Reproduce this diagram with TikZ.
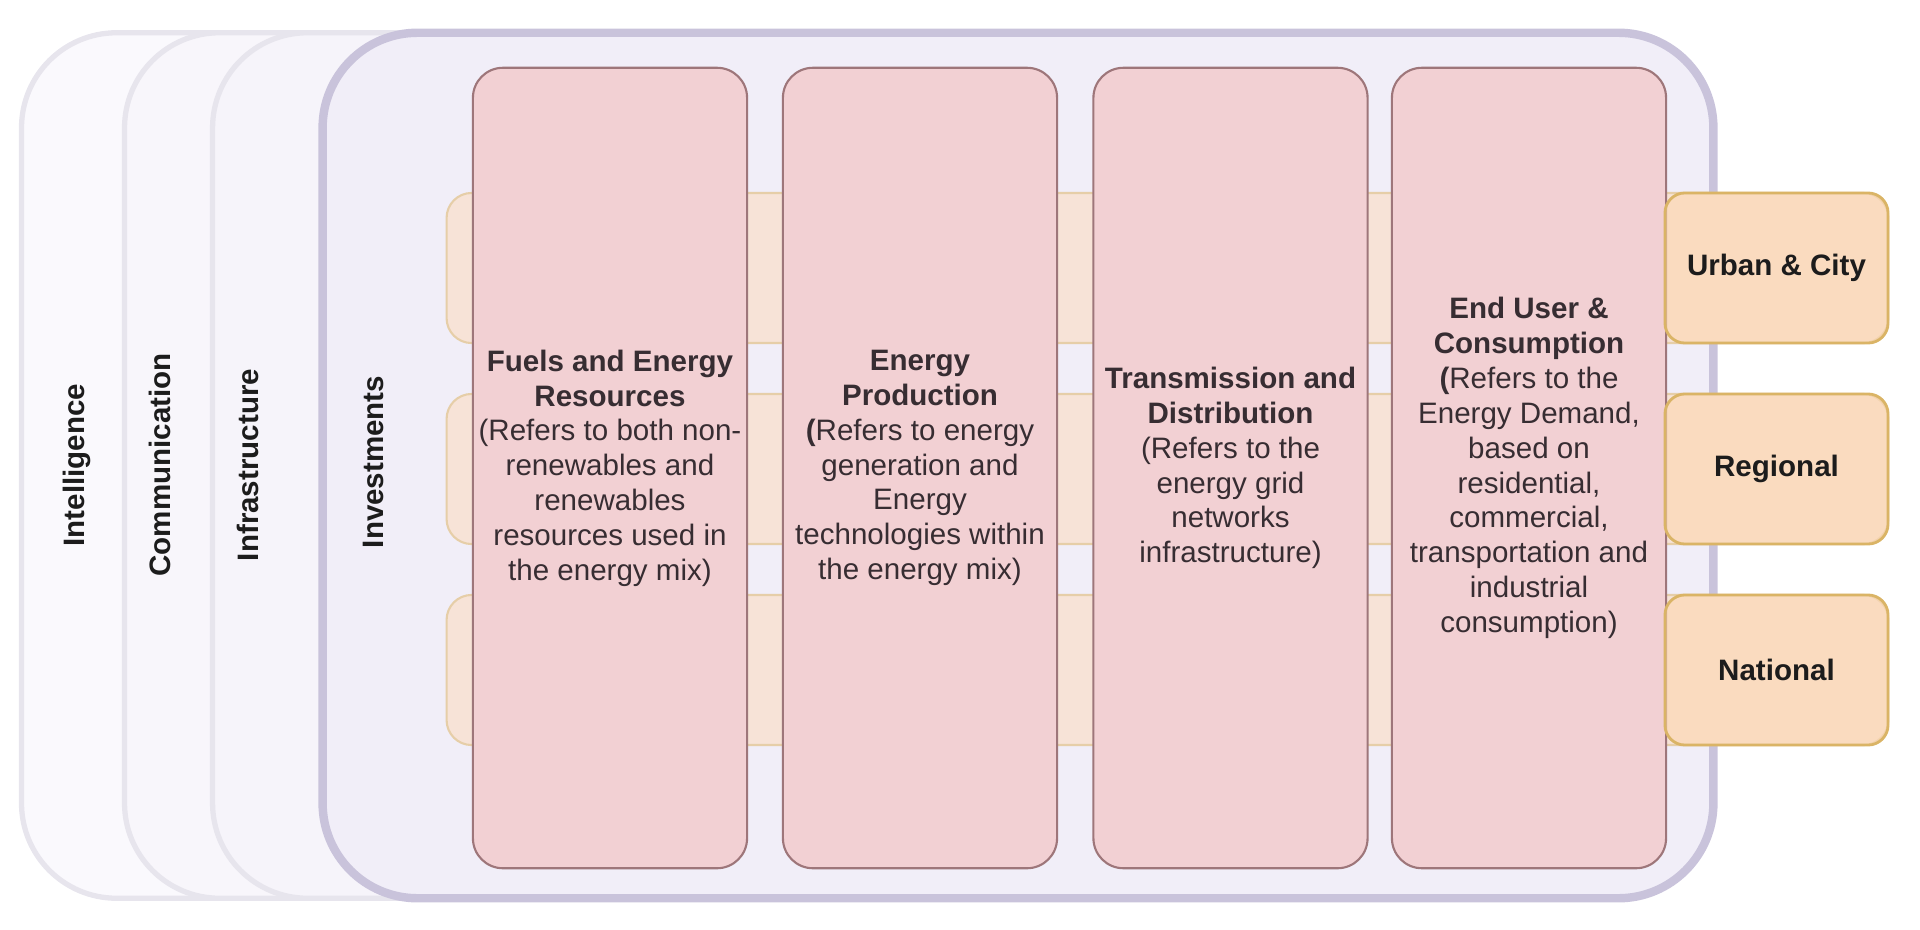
\documentclass[tikz,border=0pt]{standalone}
\usepackage{fontspec}
\setmainfont{Liberation Sans}

\definecolor{intelfill}{RGB}{250,249,253}
\definecolor{commfill}{RGB}{248,246,251}
\definecolor{infrafill}{RGB}{246,244,250}
\definecolor{investfill}{RGB}{241,238,248}
\definecolor{layerline}{RGB}{231,229,237}
\definecolor{investline}{RGB}{201,195,219}
\definecolor{bandfill}{RGB}{247,227,215}
\definecolor{bandline}{RGB}{230,206,168}
\definecolor{stagefill}{RGB}{242,208,211}
\definecolor{stageline}{RGB}{158,118,122}
\definecolor{stagetext}{RGB}{55,45,50}
\definecolor{levelfill}{RGB}{252,214,176}
\definecolor{levelline}{RGB}{218,180,102}
\definecolor{labeltext}{RGB}{28,28,28}

\begin{document}
\begin{tikzpicture}[x=0.01cm, y=-0.01cm, font=\fontsize{8.4}{9.9}\selectfont,
  layer/.style={draw=layerline, line width=1.5pt, rounded corners=0.95cm, minimum height=8.65cm, inner sep=0pt},
  title/.style={rotate=90, font=\fontsize{8.4}{9.9}\selectfont\bfseries, text=labeltext},
  band/.style={draw=bandline, fill=bandfill, line width=0.6pt, rounded corners=0.25cm, minimum width=14.41cm, minimum height=1.5cm, inner sep=0pt},
  stage/.style={draw=stageline, fill=stagefill, line width=0.6pt, rounded corners=0.3cm, minimum width=2.74cm, minimum height=8cm, align=center, text=stagetext, inner sep=0pt},
  level/.style={draw=levelline, fill=levelfill, fill opacity=0.6, text opacity=1, line width=0.8pt, rounded corners=0.2cm, minimum width=2.23cm, minimum height=1.5cm, inner sep=0pt, text=labeltext, font=\fontsize{8.4}{9.9}\selectfont\bfseries}]
\useasboundingbox (0,0) rectangle (1920,930);

\node[layer, fill=intelfill, minimum width=16.91cm] (intel) at (867.5,465.5) {};
\node[layer, fill=commfill, minimum width=15.88cm] (comm) at (919,465.5) {};
\node[layer, fill=infrafill, minimum width=15.00cm] (infra) at (963,465.5) {};
\node[layer, fill=investfill, draw=investline, line width=2.4pt, minimum width=13.90cm] (invest) at (1018,465.5) {};

\node[title] (intel label) at (77,465) {Intelligence};
\node[title] (comm label) at (160,465) {Communication};
\node[title] (infra label) at (248,465) {Infrastructure};
\node[title] (invest label) at (373,462) {Investments};

\node[band] (band1) at (1167.5,268) {};
\node[band] (band2) at (1167.5,469) {};
\node[band] (band3) at (1167.5,670) {};

\node[stage] (fuels) at (610,468) {\textbf{Fuels and Energy}\\\textbf{Resources}\\(Refers to both non-\\renewables and\\renewables\\resources used in\\the energy mix)};
\node[stage] (production) at (920,468) {\textbf{Energy}\\\textbf{Production}\\\textbf{(}Refers to energy\\generation and\\Energy\\technologies within\\the energy mix)};
\node[stage] (transmission) at (1230.5,468) {\textbf{Transmission and}\\\textbf{Distribution}\\(Refers to the\\energy grid\\networks\\infrastructure)};
\node[stage] (enduser) at (1529,468) {\textbf{End User \&}\\\textbf{Consumption}\\\textbf{(}Refers to the\\Energy Demand,\\based on\\residential,\\commercial,\\transportation and\\industrial\\consumption)};

\node[level] (urban) at (1776.5,268) {Urban \& City};
\node[level] (regional) at (1776.5,469) {Regional};
\node[level] (national) at (1776.5,670) {National};

\end{tikzpicture}
\end{document}
